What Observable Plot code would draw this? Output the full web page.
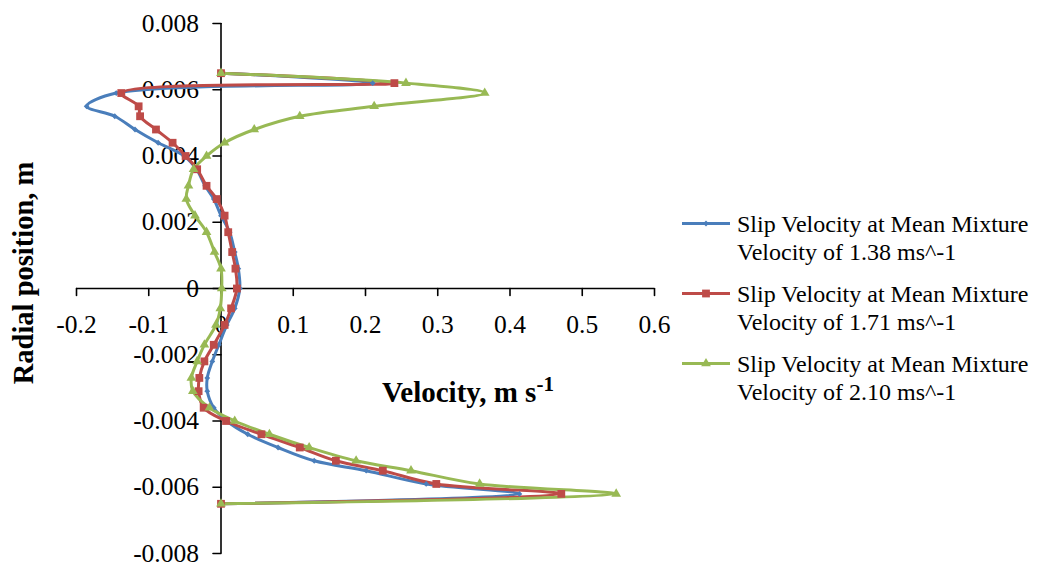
<!DOCTYPE html>
<html>
<head>
<meta charset="utf-8">
<script src="https://cdn.jsdelivr.net/npm/d3@7"></script>
<script src="https://cdn.jsdelivr.net/npm/@observablehq/plot@0.6"></script>
<style>
  html, body { margin: 0; padding: 0; background: #fff; }
  #chart { position: relative; width: 1045px; height: 562px; }
</style>
</head>
<body>
<div id="chart"></div>
<script>
// Radial positions (m), shared by all three series (top wall to bottom wall)
const radial = [0.0065, 0.0062, 0.0059, 0.0055, 0.0052, 0.0048, 0.0044, 0.0040, 0.0036, 0.0031, 0.0027, 0.0022, 0.0017, 0.0011, 0.0006, 0,
  -0.0006, -0.0011, -0.0017, -0.0022, -0.0027, -0.0031, -0.0036, -0.0040, -0.0044, -0.0048, -0.0052, -0.0055, -0.0059, -0.0062, -0.0065];

// Slip velocity (m/s) for each mean mixture velocity
const slip138 = [0, 0.21, -0.145, -0.186, -0.147, -0.119, -0.087, -0.051, -0.034, -0.022, -0.010, 0.000, 0.012, 0.019, 0.024, 0.026,
  0.019, 0.008, -0.003, -0.012, -0.019, -0.019, -0.010, 0.008, 0.037, 0.079, 0.129, 0.201, 0.284, 0.413, 0];
const slip171 = [0, 0.240, -0.138, -0.114, -0.112, -0.090, -0.067, -0.049, -0.033, -0.020, -0.006, 0.005, 0.010, 0.0155, 0.020, 0.022,
  0.014, 0.005, -0.010, -0.023, -0.030, -0.031, -0.024, 0.007, 0.056, 0.109, 0.159, 0.224, 0.298, 0.471, 0];
const slip210 = [0, 0.256, 0.365, 0.212, 0.109, 0.046, 0.005, -0.020, -0.038, -0.045, -0.048, -0.036, -0.020, -0.009, 0.000, 0.001,
  -0.001, -0.007, -0.023, -0.033, -0.041, -0.039, -0.016, 0.019, 0.067, 0.122, 0.187, 0.263, 0.358, 0.547, 0];

const seriesNames = [
  ["Slip Velocity at Mean Mixture", "Velocity of 1.38 ms^-1"],
  ["Slip Velocity at Mean Mixture", "Velocity of 1.71 ms^-1"],
  ["Slip Velocity at Mean Mixture", "Velocity of 2.10 ms^-1"]
];
const seriesValues = [slip138, slip171, slip210];
const seriesColors = ["#4A7EBB", "#BE4B48", "#98B954"];
const seriesSymbols = ["diamond2", "square", "triangle"];
const seriesR = [2.6, 4.4, 3.6];

const xTicks = [-0.2, -0.1, 0, 0.1, 0.2, 0.3, 0.4, 0.5, 0.6];
const yTicks = [0.008, 0.006, 0.004, 0.002, 0, -0.002, -0.004, -0.006, -0.008];

const xTitle = "Velocity, m s";
const xTitleSup = "-1";
const yTitle = "Radial position, m";

const FONT = "'Liberation Serif', 'Times New Roman', serif";

const data = seriesValues.flatMap((vals, s) =>
  vals.map((v, i) => ({series: s, x: v, y: radial[i], idx: i})));

const tickShape = {
  draw(context, l) { context.moveTo(0, 0); context.lineTo(0, -l); }
};

const lineMarks = seriesValues.map((vals, s) =>
  Plot.line(data.filter(d => d.series === s), {
    x: "x", y: "y", curve: "catmull-rom",
    stroke: seriesColors[s], strokeWidth: 3
  }));
const dotMarks = seriesValues.map((vals, s) =>
  Plot.dot(data.filter(d => d.series === s), {
    x: "x", y: "y", symbol: () => seriesSymbols[s], r: seriesR[s],
    fill: seriesColors[s], stroke: "none"
  }));

const plot = Plot.plot({
  width: 1045, height: 562,
  marginLeft: 76, marginRight: 391, marginTop: 23, marginBottom: 9,
  x: {domain: [-0.2, 0.6], axis: null},
  y: {domain: [-0.008, 0.008], axis: null},
  style: {fontFamily: FONT, background: "#fff", color: "#000"},
  marks: [
    Plot.ruleY([0], {x1: -0.2, x2: 0.6, stroke: "#000", strokeWidth: 1.6}),
    Plot.ruleX([0], {y1: -0.008, y2: 0.008, stroke: "#000", strokeWidth: 1.6}),
    Plot.vector(xTicks, {x: d => d, y: 0, length: 7, rotate: 180, anchor: "start", shape: tickShape, stroke: "#000", strokeWidth: 1.6}),
    Plot.vector(yTicks, {x: 0, y: d => d, length: 8, rotate: -90, anchor: "start", shape: tickShape, stroke: "#000", strokeWidth: 1.6}),
    Plot.text(xTicks, {x: d => d, y: 0, dy: 36, text: d => String(d), fontSize: 25.5, fill: "#000"}),
    Plot.text(yTicks, {x: 0, y: d => d, dx: -22, textAnchor: "end", text: d => String(d), fontSize: 25.5, fill: "#000"}),
    ...lineMarks,
    ...dotMarks
  ]
});

document.getElementById("chart").appendChild(plot);

// Axis titles and legend
const svg = d3.select(plot);

const xt = svg.append("text")
  .attr("x", 382).attr("y", 402)
  .attr("text-anchor", "start")
  .attr("font-family", FONT).attr("font-size", 29).attr("font-weight", "bold")
  .attr("fill", "#000");
xt.append("tspan").text(xTitle);
xt.append("tspan").attr("font-size", 21).attr("dy", -11).text(xTitleSup);

svg.append("text")
  .attr("transform", "translate(33,273) rotate(-90)")
  .attr("text-anchor", "middle")
  .attr("font-family", FONT).attr("font-size", 28.5).attr("font-weight", "bold")
  .attr("fill", "#000")
  .text(yTitle);

const legendY = [223.5, 293.5, 363.5];
seriesNames.forEach((lines, s) => {
  const g = svg.append("g").attr("transform", `translate(0,${legendY[s]})`);
  g.append("line").attr("x1", 682).attr("x2", 730).attr("y1", 0).attr("y2", 0)
    .attr("stroke", seriesColors[s]).attr("stroke-width", 3);
  const symType = {diamond2: d3.symbolDiamond2, square: d3.symbolSquare, triangle: d3.symbolTriangle}[seriesSymbols[s]];
  g.append("path").attr("transform", "translate(706,0)")
    .attr("d", d3.symbol(symType, seriesR[s] * seriesR[s] * Math.PI)())
    .attr("fill", seriesColors[s]);
  lines.forEach((t, k) => {
    g.append("text").attr("x", 737).attr("y", k * 28.4).attr("dy", "0.35em")
      .attr("text-anchor", "start")
      .attr("font-family", FONT).attr("font-size", 24).attr("fill", "#000").text(t);
  });
});
</script>
</body>
</html>
